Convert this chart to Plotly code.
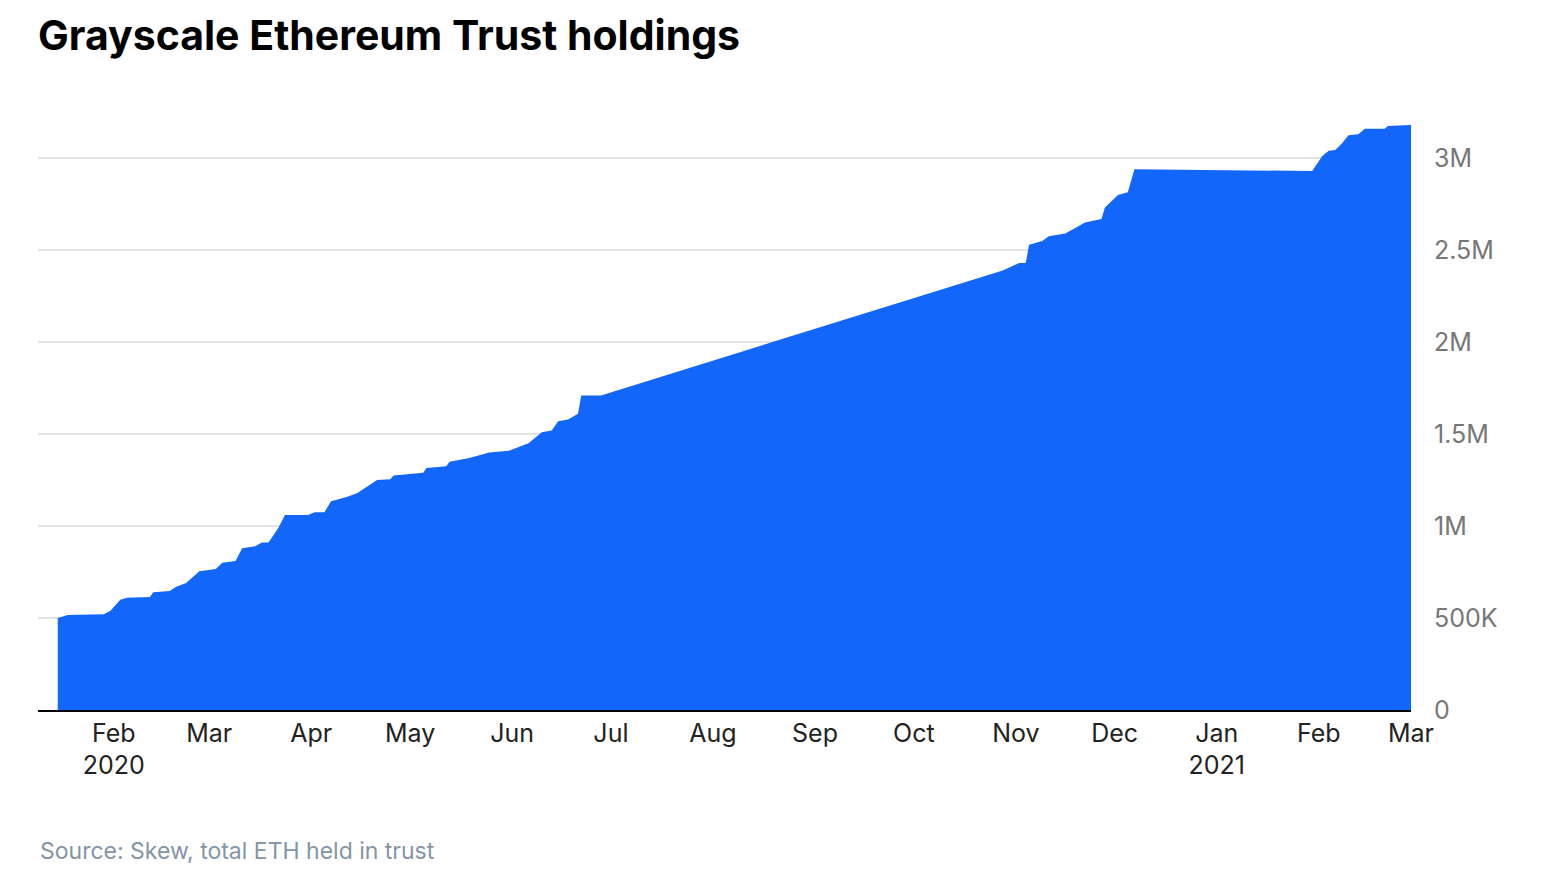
import plotly.graph_objects as go

# Grayscale ETH holdings
dates = [
    "2020-01-15", "2020-01-18", "2020-01-29", "2020-01-31", "2020-02-03", "2020-02-05",
    "2020-02-12", "2020-02-13", "2020-02-18", "2020-02-20", "2020-02-23", "2020-02-26",
    "2020-02-27", "2020-03-03", "2020-03-05", "2020-03-09", "2020-03-11", "2020-03-15",
    "2020-03-17", "2020-03-19", "2020-03-22", "2020-03-24", "2020-03-31", "2020-04-02",
    "2020-04-05", "2020-04-07", "2020-04-12", "2020-04-15", "2020-04-21", "2020-04-25",
    "2020-04-26", "2020-05-05", "2020-05-06", "2020-05-12", "2020-05-13", "2020-05-19",
    "2020-05-25", "2020-05-31", "2020-06-06", "2020-06-08", "2020-06-10", "2020-06-13",
    "2020-06-15", "2020-06-18", "2020-06-21", "2020-06-22", "2020-06-28",
    "2020-10-28", "2020-11-02", "2020-11-04", "2020-11-05", "2020-11-09", "2020-11-11",
    "2020-11-16", "2020-11-19", "2020-11-22", "2020-11-27", "2020-11-28", "2020-12-02",
    "2020-12-05", "2020-12-07", "2021-01-30", "2021-02-02", "2021-02-04", "2021-02-06",
    "2021-02-08", "2021-02-10", "2021-02-13", "2021-02-15", "2021-02-21", "2021-02-22",
    "2021-03-01",
]
holdings = [
    500000, 516000, 520000, 540000, 600000, 610000,
    614000, 640000, 647000, 670000, 690000, 740000,
    755000, 766000, 800000, 810000, 880000, 890000,
    910000, 910000, 990000, 1060000, 1060000, 1075000,
    1075000, 1135000, 1160000, 1180000, 1250000, 1255000,
    1275000, 1290000, 1315000, 1325000, 1350000, 1370000,
    1400000, 1410000, 1450000, 1480000, 1510000, 1520000,
    1570000, 1580000, 1610000, 1710000, 1710000,
    2390000, 2430000, 2430000, 2530000, 2550000, 2575000,
    2590000, 2620000, 2650000, 2670000, 2730000, 2800000,
    2815000, 2940000, 2930000, 3010000, 3040000, 3045000,
    3080000, 3125000, 3130000, 3160000, 3160000, 3175000,
    3180000,
]

month_ticks = ["2020-02-01", "2020-03-01", "2020-04-01", "2020-05-01", "2020-06-01",
               "2020-07-01", "2020-08-01", "2020-09-01", "2020-10-01", "2020-11-01",
               "2020-12-01", "2021-01-01", "2021-02-01", "2021-03-01"]
month_labels = ["Feb<br>2020", "Mar", "Apr", "May", "Jun", "Jul", "Aug", "Sep", "Oct",
                "Nov", "Dec", "Jan<br>2021", "Feb", "Mar"]

y_ticks = [0, 500000, 1000000, 1500000, 2000000, 2500000, 3000000]
y_labels = ["0", "500K", "1M", "1.5M", "2M", "2.5M", "3M"]

fig = go.Figure(go.Scatter(
    x=dates, y=holdings, mode="lines", fill="tozeroy",
    line=dict(width=0, color="#1366FA"), fillcolor="#1366FA",
))

fig.update_layout(
    width=1548, height=870,
    paper_bgcolor="white", plot_bgcolor="white",
    margin=dict(l=30, r=145, t=95, b=168, autoexpand=False),
    font=dict(family="Inter, Roboto, sans-serif", size=25, color="#222"),
    showlegend=False,
    title=dict(text="<b>Grayscale Ethereum Trust holdings</b>", xref="container",
               x=30 / 1548, xanchor="left", y=0.985, yanchor="top",
               font=dict(size=41, color="black")),
)
fig.update_xaxes(
    range=["2020-01-09", "2021-03-01"], tickvals=month_ticks, ticktext=month_labels,
    tickangle=0, automargin=False,
    showgrid=False, showline=True, linecolor="black", linewidth=1.5,
    ticks="", tickfont=dict(size=25, color="#222"),
)
fig.update_yaxes(
    side="right", range=[0, 3300000], tickvals=y_ticks, ticktext=y_labels,
    automargin=False, ticklabelstandoff=22,
    showgrid=True, gridcolor="#e3e3e3", gridwidth=1.5, zeroline=False,
    tickfont=dict(size=25, color="#777"),
)
fig.add_annotation(
    text="Source: Skew, total ETH held in trust", xref="paper", yref="paper",
    x=0, y=-0.232, xanchor="left", yanchor="middle", showarrow=False,
    font=dict(size=23, color="#8395a7"),
)

fig.write_html("out.html")
